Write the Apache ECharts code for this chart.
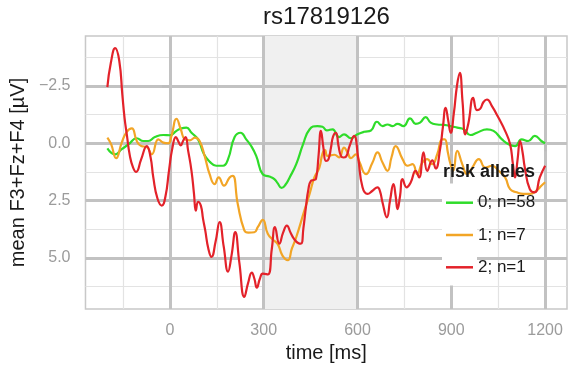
<!DOCTYPE html>
<html>
<head>
<meta charset="utf-8">
<script src="https://cdn.jsdelivr.net/npm/echarts@6/dist/echarts.min.js"></script>
<style>
  html, body { margin: 0; padding: 0; background: #ffffff; }
  #chart { width: 568px; height: 371px; }
</style>
</head>
<body>
<div id="chart"></div>
<script>
// Grand-average ERP at frontal sites (F3+Fz+F4), grouped by number of risk alleles
const chartTitle = 'rs17819126';
const legendTitle = 'risk alleles';
const groupNames = ['0; n=58', '1; n=7', '2; n=1'];
const groupColors = ['#2fdc2a', '#f2a526', '#e3222a'];

// time axis (ms) and amplitude axis (µV, negative up)
const xTicks = [0, 300, 600, 900, 1200];
const xMinor = [-150, 150, 450, 750, 1050];
const yTicks = [-2.5, 0, 2.5, 5];
const yMinor = [-3.75, -1.25, 1.25, 3.75, 6.25];
const xRange = [-270, 1270];
const yRange = [-4.68, 7.23];
const window300to600 = [300, 600];

// group 0 (green)
const green_t = [-200,-175,-154,-132,-106,-85,-69,-48,-21,0,21,37,53,69,90,109,127,148,170,186,207,226,244,260,276,297,318,334,345,357,370,383,404,426,447,472,488,502,520,541,557,579,600,621,643,662,680,696,712,728,747,768,786,800,818,834,855,877,898,919,940,961,982,1014,1035,1062,1083,1104,1125,1146,1167,1188,1200];
const green_v = [0.22,0.48,0.26,0.04,-0.22,-0.1,-0.1,-0.27,-0.36,-0.35,-0.54,-0.65,-0.68,-0.46,-0.17,0.48,0.8,0.98,0.98,0.69,-0.27,-0.46,-0.17,0.12,0.55,1.35,1.45,1.56,1.75,1.95,1.8,1.49,0.91,0.04,-0.61,-0.75,-0.72,-0.56,-0.61,-0.27,-0.39,-0.22,-0.39,-0.5,-0.56,-0.94,-0.75,-0.82,-0.75,-0.85,-0.75,-1.09,-0.85,-0.9,-1.14,-0.9,-0.82,-0.8,-0.75,-0.68,-0.61,-0.36,-0.46,-0.61,-0.54,-0.17,0.04,0.12,-0.17,-0.1,-0.32,-0.1,0];

// group 1 (orange)
const orange_t = [-200,-188,-172,-154,-138,-122,-106,-92,-74,-58,-37,-21,-5,5,21,35,48,64,80,95,111,127,143,156,173,191,201,217,238,251,270,281,297,313,329,345,360,377,390,404,430,447,462,478,488,496,504,526,541,557,568,579,595,605,627,648,664,680,696,709,722,744,760,776,791,807,823,839,855,871,879,889,896,906,919,935,951,967,988,1009,1030,1051,1072,1088,1109,1130,1151,1172,1188,1200];
const orange_v = [-0.25,0.04,0.65,-0.03,-0.5,-0.65,-0.1,0.12,0.16,0.48,-0.17,-0.03,0,-0.32,-1.07,-0.6,-0.17,-0.13,-0.25,-0.1,0.55,1.35,1.78,1.49,1.85,1.49,1.42,2.65,3.8,3.9,3.88,3.66,3.34,3.95,4.2,4.4,4.9,5.1,4.6,4.1,2.94,2.2,1.49,1.06,0.45,0.3,0.55,0.5,0.62,0.19,0.4,0.65,0.48,0.77,1.35,0.84,0.4,0.84,1.2,0.6,0.12,0.69,0.98,0.91,1.35,0.84,0.69,0.91,0.48,-0.17,-0.17,0.4,0.84,1.2,0.33,0.91,1.35,1.06,0.69,1.06,0.98,1.2,1.49,2.0,2.14,2.21,2.21,2.07,1.85,1.7];

// group 2 (red)
const red_t = [-200,-189,-175,-162,-152,-145,-138,-128,-118,-108,-92,-74,-62,-53,-40,-26,-14,-3,8,19,28,35,42,50,58,69,77,83,90,99,106,113,123,133,146,159,172,186,197,209,222,238,250,262,270,278,288,297,313,326,336,350,362,374,386,397,410,419,427,435,443,451,460,467,475,483,491,499,507,515,522,531,539,547,555,563,575,589,602,616,632,648,664,672,680,694,704,715,722,728,736,744,757,770,786,797,811,823,839,850,864,873,882,890,898,908,918,927,936,945,955,970,982,992,1003,1014,1030,1051,1072,1088,1097,1104,1112,1120,1128,1135,1151,1167,1183,1200];
const red_v = [-2.45,-3.5,-4.15,-3.6,-2.1,-1.1,-0.4,0.55,1.05,1.25,0.7,0.12,0.6,1.5,2.4,2.72,2.3,1.2,0.2,-0.27,-0.05,0.09,-0.1,-0.27,0.3,1.2,2.2,2.94,2.55,2.72,3.3,3.8,4.6,4.96,4.3,3.44,4.5,5.6,4.9,3.88,5.2,6.7,6.1,5.64,5.9,6.3,5.9,5.69,5.72,4.6,3.66,4.38,3.9,3.59,3.9,4.17,4.35,4.38,3.7,2.79,2.0,1.64,1.6,1.56,0.6,-0.54,0.2,0.77,0.7,0.2,-0.3,-0.46,0.1,0.55,0.62,0.59,0.1,-0.32,0.62,1.92,2.21,2.07,1.92,2.1,2.58,3.23,2.5,1.78,2.3,2.87,2.3,1.56,1.92,1.71,1.2,1.49,0.4,1.2,0.75,1.1,0.26,-0.7,-1.55,-1.0,-0.46,-1.3,-2.5,-3.07,-1.8,-0.39,-0.9,-1.98,-1.45,-1.5,-1.8,-1.91,-1.62,-1.11,-0.54,0.04,0.9,1.49,0.7,-0.1,0.4,1.06,2.0,2.14,1.49,0.98];

const FONT = '"Liberation Sans", Arial, Helvetica, sans-serif';
const zip = (t, v) => t.map((x, i) => [x, v[i]]);
const fmtX = v => String(v);
const fmtY = v => (v < 0 ? '\u2212' + Math.abs(v).toFixed(1) : v.toFixed(1));

const chart = echarts.init(document.getElementById('chart'), null, { renderer: 'canvas' });

const gridRect = { left: 85, right: 1, top: 36, bottom: 62 };

function majorX() {
  return {
    type: 'value', min: xRange[0], max: xRange[1], z: 2,
    axisLine: { show: false },
    axisTick: { show: true, length: 8, customValues: xTicks, lineStyle: { color: '#bdbdbd', width: 2.5 } },
    axisLabel: { customValues: xTicks, margin: 14, fontSize: 16, color: '#9b9b9b', fontFamily: FONT, formatter: fmtX },
    splitLine: { show: true, lineStyle: { color: '#c2c2c2', width: 3 } },
    name: 'time [ms]', nameLocation: 'middle', nameGap: 33,
    nameTextStyle: { fontSize: 20, color: '#1a1a1a', fontFamily: FONT }
  };
}
function minorX() {
  return {
    type: 'value', min: xRange[0], max: xRange[1], z: 1,
    axisLine: { show: false },
    axisTick: { show: false, customValues: xMinor },
    axisLabel: { show: false },
    splitLine: { show: true, lineStyle: { color: '#e3e3e3', width: 1.2 } }
  };
}
function majorY() {
  return {
    type: 'value', inverse: true, min: yRange[0], max: yRange[1], z: 2,
    axisLine: { show: false },
    axisTick: { show: true, length: 8, customValues: yTicks, lineStyle: { color: '#bdbdbd', width: 2.5 } },
    axisLabel: { customValues: yTicks, margin: 15, fontSize: 16, color: '#9b9b9b', fontFamily: FONT, formatter: fmtY },
    splitLine: { show: true, lineStyle: { color: '#c2c2c2', width: 3 } },
    name: 'mean F3+Fz+F4 [\u00b5V]', nameLocation: 'middle', nameGap: 52,
    nameTextStyle: { fontSize: 20, color: '#1a1a1a', fontFamily: FONT }
  };
}
function minorY() {
  return {
    type: 'value', inverse: true, min: yRange[0], max: yRange[1], z: 1,
    axisLine: { show: false },
    axisTick: { show: false, customValues: yMinor },
    axisLabel: { show: false },
    splitLine: { show: true, lineStyle: { color: '#e3e3e3', width: 1.2 } }
  };
}

const seriesData = [zip(green_t, green_v), zip(orange_t, orange_v), zip(red_t, red_v)];

const option = {
  animation: false,
  backgroundColor: '#ffffff',
  title: [
    { text: chartTitle, left: 326.5, top: 5, padding: 0, textAlign: 'center',
      textStyle: { fontSize: 24, fontWeight: 'normal', color: '#1a1a1a', fontFamily: FONT } },
    { text: legendTitle, left: 443, top: 163, padding: 0, z: 6,
      textStyle: { fontSize: 18, fontWeight: 'bold', color: '#1a1a1a', fontFamily: FONT } }
  ],
  grid: Object.assign({ show: true, borderColor: '#c8c8c8', borderWidth: 1.5, backgroundColor: '#ffffff' }, gridRect),
  xAxis: [majorX(), minorX()],
  yAxis: [majorY(), minorY()],
  legend: {
    orient: 'vertical', left: 446, top: 193.7, padding: 0, z: 6,
    itemWidth: 27, itemHeight: 2.5, itemGap: 14.3,
    icon: 'rect',
    textStyle: { fontSize: 17, color: '#1a1a1a', fontFamily: FONT, lineHeight: 18, height: 18 },
    data: groupNames.map((name, i) => ({ name: name, itemStyle: { color: groupColors[i] } }))
  },
  graphic: [
    { type: 'rect', z: 5, shape: { x: 442, y: 183.5, width: 35, height: 102 }, style: { fill: '#ffffff' } }
  ],
  series: [
    {
      type: 'line', name: '_window', xAxisIndex: 0, yAxisIndex: 0, z: 0, data: [],
      markArea: {
        silent: true,
        itemStyle: { color: '#f0f0f0' },
        data: [[{ xAxis: window300to600[0] }, { xAxis: window300to600[1] }]]
      }
    }
  ].concat(groupNames.map((name, i) => ({
    type: 'line', name: name, data: seriesData[i], xAxisIndex: 0, yAxisIndex: 0,
    z: 3, symbol: 'none', smooth: 0.5,
    color: groupColors[i],
    lineStyle: { color: groupColors[i], width: 2.2 },
    itemStyle: { color: groupColors[i] }
  })))
};

chart.setOption(option);
</script>
</body>
</html>
